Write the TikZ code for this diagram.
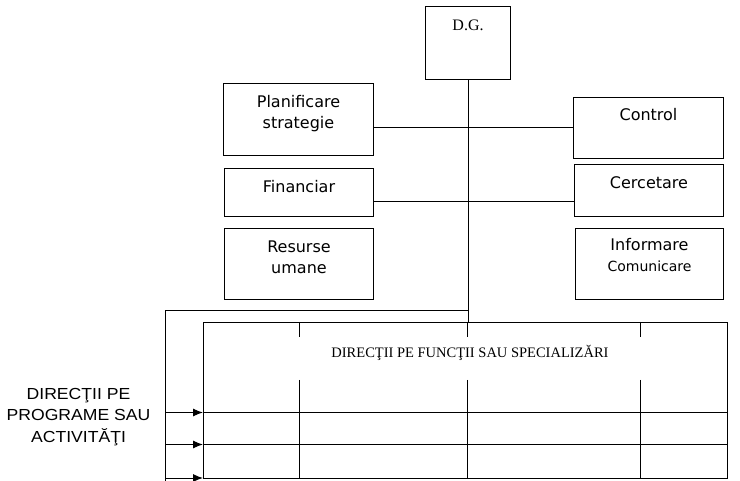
\documentclass[tikz,border=0pt]{standalone}
\usepackage{fontspec}
\setmainfont{Liberation Serif}
\newfontfamily\boxfont{DejaVu Sans}
\newfontfamily\sidefont[FakeStretch=1.1]{Liberation Sans}
\usetikzlibrary{arrows.meta,positioning}
\tikzset{>={Latex[length=10pt,width=8pt]}}
\tikzset{
  unit/.style={draw, inner sep=0pt, anchor=north west},
  lbl/.style={font=\boxfont\fontsize{16}{21}\selectfont, align=center, inner sep=0pt, anchor=north},
}

\begin{document}
\begin{tikzpicture}[x=1pt, y=-1pt, line width=1pt]
    \useasboundingbox (0,0) rectangle (740,481);

    % top and staff units
    \node[unit, minimum width=85pt, minimum height=73pt] (dg) at (425,6) {};
    \node[unit, minimum width=150pt, minimum height=72pt] (plan) at (223,83) {};
    \node[unit, minimum width=150pt, minimum height=61pt] (ctrl) at (573,97) {};
    \node[unit, minimum width=149pt, minimum height=48pt] (fin) at (224,168) {};
    \node[unit, minimum width=149pt, minimum height=52pt] (cerc) at (574,164) {};
    \node[unit, minimum width=149pt, minimum height=71pt] (res) at (224,228) {};
    \node[unit, minimum width=148pt, minimum height=71pt] (info) at (575,228) {};

    \node[lbl, font=\rmfamily\fontsize{16}{20}\selectfont] (dg-t) at ([yshift=-13pt]dg.north) {D.G.};
    \node[lbl] (plan-t) at ([yshift=-12pt]plan.north) {Planificare\\strategie};
    \node[lbl] (ctrl-t) at ([yshift=-11pt]ctrl.north) {Control};
    \node[lbl] (fin-t) at ([yshift=-12pt]fin.north) {Financiar};
    \node[lbl] (cerc-t) at ([yshift=-12pt]cerc.north) {Cercetare};
    \node[lbl] (res-t) at ([yshift=-12pt]res.north) {Resurse\\umane};
    \node[lbl] (info-t) at ([yshift=-10pt]info.north) {Informare\\{\fontsize{14}{21}\selectfont Comunicare}};

    % matrix of directions
    \node[unit, minimum width=524pt, minimum height=156pt] (func) at (203,322) {};
    \node[font=\rmfamily\fontsize{14.5}{17}\selectfont, inner sep=0pt] (func-t) at (470,353) {DIRECŢII PE FUNCŢII SAU SPECIALIZĂRI};
    \node[font=\sidefont\fontsize{16}{21.5}\selectfont, align=center, inner sep=0pt] (prog) at (78.5,417) {DIRECŢII PE\\PROGRAME SAU\\ACTIVITĂŢI};

    \draw (dg.south) -- (dg.south |- func.north);
    \draw (plan.east |- ctrl.west) -- (ctrl.west);
    \draw ([yshift=-9pt]fin.east) -- ([yshift=-9pt]fin.east -| cerc.west);

    \coordinate (fork) at (dg.south |- 0,310.5);
    \coordinate (spine) at (165.5,310.5);
    \draw (fork) -- (spine) -- (165.5,481);

    \foreach \cx in {299.5,467.5,640.5} {
        \draw (\cx,322) -- (\cx,337);
        \draw (\cx,380) -- (\cx,478);
    }
    \foreach \ry in {412.5,444.5} {
        \draw (203,\ry) -- (727,\ry);
    }
    \foreach \ry in {412.5,444.5,478} {
        \draw[->] (spine |- 0,\ry) -- (func.west |- 0,\ry);
    }

\end{tikzpicture}
\end{document}
